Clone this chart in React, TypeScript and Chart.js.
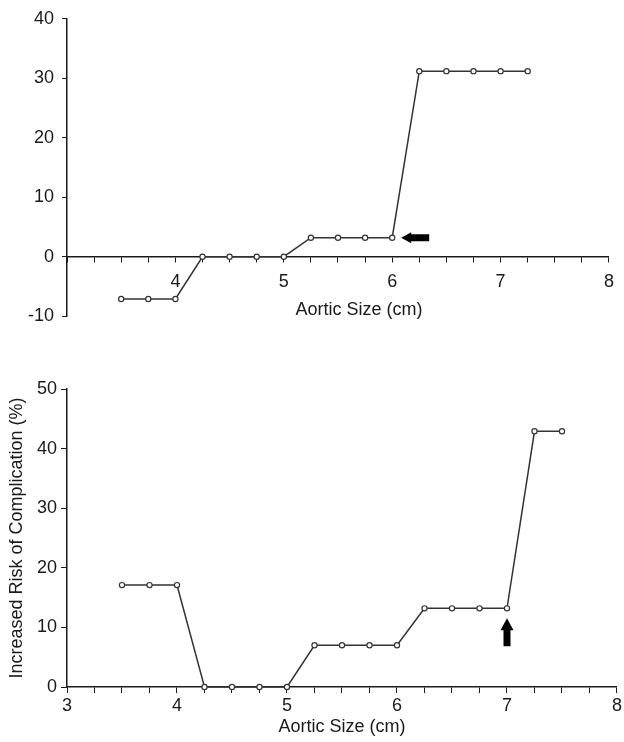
import React, { useEffect, useRef } from "react";
import { Chart, registerables } from "chart.js";

Chart.register(...registerables);

// ---- data ----
const topSizes = [3.5, 3.75, 4, 4.25, 4.5, 4.75, 5, 5.25, 5.5, 5.75, 6, 6.25, 6.5, 6.75, 7, 7.25];
const topRisk = [-7.1, -7.1, -7.1, 0, 0, 0, 0, 3.2, 3.2, 3.2, 3.2, 31.2, 31.2, 31.2, 31.2, 31.2];

const bottomSizes = [3.5, 3.75, 4, 4.25, 4.5, 4.75, 5, 5.25, 5.5, 5.75, 6, 6.25, 6.5, 6.75, 7, 7.25, 7.5];
const bottomRisk = [17.1, 17.1, 17.1, 0, 0, 0, 0, 7, 7, 7, 7, 13.2, 13.2, 13.2, 13.2, 42.9, 42.9];

const topXLabels = [4, 5, 6, 7, 8];
const bottomXLabels = [3, 4, 5, 6, 7, 8];
const topArrowAt = { x: 6, y: 3.2 };
const bottomArrowAt = { x: 7, y: 13.2 };

const xTitle = "Aortic Size (cm)";
const yTitle = "Increased Risk of Complication (%)";

const FONT = "'Liberation Sans', Arial, Helvetica, sans-serif";
const INK = "#1a1a1a";
const LINE = "#333333";

const arrowPlugin = {
  id: "arrow",
  afterDatasetsDraw(chart: any, _args: any, opts: any) {
    if (!opts || opts.x == null) return;
    const px = chart.scales.x.getPixelForValue(opts.x);
    const py = chart.scales.y.getPixelForValue(opts.y);
    const { gap, len, headLen, headW, shaftW, angle } = opts;
    const ctx = chart.ctx;
    ctx.save();
    ctx.translate(px, py);
    ctx.rotate(angle);
    ctx.beginPath();
    ctx.moveTo(gap, 0);
    ctx.lineTo(gap + headLen, -headW);
    ctx.lineTo(gap + headLen, -shaftW);
    ctx.lineTo(gap + len, -shaftW);
    ctx.lineTo(gap + len, shaftW);
    ctx.lineTo(gap + headLen, shaftW);
    ctx.lineTo(gap + headLen, headW);
    ctx.closePath();
    ctx.fillStyle = "#000";
    ctx.fill();
    ctx.restore();
  },
};

const shiftedTitlePlugin = {
  id: "shiftedTitle",
  afterDraw(chart: any, _args: any, opts: any) {
    if (!opts || !opts.text) return;
    const { left, right } = chart.chartArea;
    const y0 = chart.scales.y.getPixelForValue(0);
    const ctx = chart.ctx;
    ctx.save();
    ctx.font = `18px ${FONT}`;
    ctx.fillStyle = INK;
    ctx.textAlign = "center";
    ctx.textBaseline = "middle";
    ctx.fillText(opts.text, (left + right) / 2 + opts.dx, y0 + opts.dy);
    ctx.restore();
  },
};

function dataset(xs: number[], ys: number[]) {
  return {
    data: xs.map((x, i) => ({ x, y: ys[i] })),
    borderColor: LINE,
    borderWidth: 1.5,
    pointRadius: 2.6,
    pointBorderWidth: 1.2,
    pointBackgroundColor: "#fff",
    pointBorderColor: LINE,
    pointStyle: "circle",
    tension: 0,
    clip: false,
  };
}

function makeTop(canvas: HTMLCanvasElement) {
  return new Chart(canvas, {
    type: "line",
    data: { datasets: [dataset(topSizes, topRisk) as any] },
    plugins: [arrowPlugin, shiftedTitlePlugin],
    options: {
      animation: false,
      responsive: false,
      devicePixelRatio: 1,
      layout: { padding: { top: 16, right: 15, bottom: 13, left: 0 } },
      plugins: {
        legend: { display: false },
        tooltip: { enabled: false },
        arrow: { ...topArrowAt, gap: 9, len: 28, headLen: 10, headW: 5.5, shaftW: 3.5, angle: 0 },
        shiftedTitle: { text: xTitle, dx: 21, dy: 53 },
      } as any,
      scales: {
        x: {
          type: "linear",
          position: { y: 0 } as any,
          min: 3,
          max: 8,
          afterFit: (s: any) => { s.height = 40; },
          ticks: {
            stepSize: 0.25,
            autoSkip: false,
            maxRotation: 0,
            padding: 10,
            color: INK,
            font: { family: FONT, size: 18 },
            callback: (v: any) => (topXLabels.includes(Number(v)) ? String(v) : ""),
          },
          grid: { display: true, drawOnChartArea: false, drawTicks: true, tickLength: 5, color: INK, lineWidth: 1 },
          border: { display: true, color: INK, width: 1.5 },
        },
        y: {
          type: "linear",
          min: -10,
          max: 40,
          afterFit: (s: any) => { s.width = 67; },
          ticks: { stepSize: 10, padding: 8, color: INK, font: { family: FONT, size: 18 } },
          grid: { display: true, drawOnChartArea: false, drawTicks: true, tickLength: 5, color: INK, lineWidth: 1 },
          border: { display: true, color: INK, width: 1.5 },
        },
      },
    },
  });
}

function makeBottom(canvas: HTMLCanvasElement) {
  return new Chart(canvas, {
    type: "line",
    data: { datasets: [dataset(bottomSizes, bottomRisk) as any] },
    plugins: [arrowPlugin],
    options: {
      animation: false,
      responsive: false,
      devicePixelRatio: 1,
      layout: { padding: { top: 49, right: 6, bottom: 0, left: 0 } },
      plugins: {
        legend: { display: false },
        tooltip: { enabled: false },
        arrow: { ...bottomArrowAt, gap: 10, len: 28, headLen: 12, headW: 6.5, shaftW: 3.5, angle: Math.PI / 2 },
      } as any,
      scales: {
        x: {
          type: "linear",
          position: "bottom",
          min: 3,
          max: 8,
          afterFit: (s: any) => { s.height = 55; },
          title: { display: true, text: xTitle, color: INK, font: { family: FONT, size: 18 }, padding: { top: 0, bottom: 4 } },
          ticks: {
            stepSize: 0.25,
            autoSkip: false,
            maxRotation: 0,
            padding: 2,
            color: INK,
            font: { family: FONT, size: 18 },
            callback: (v: any) => (bottomXLabels.includes(Number(v)) ? String(v) : ""),
          },
          grid: { display: true, drawOnChartArea: false, drawTicks: true, tickLength: 6, color: INK, lineWidth: 1 },
          border: { display: true, color: INK, width: 1.5 },
        },
        y: {
          type: "linear",
          min: 0,
          max: 50,
          afterFit: (s: any) => { s.width = 67; },
          title: { display: true, text: yTitle, color: INK, font: { family: FONT, size: 18 }, padding: { top: 6, bottom: 0 } },
          ticks: { stepSize: 10, padding: 4, color: INK, font: { family: FONT, size: 18 } },
          grid: { display: true, drawOnChartArea: false, drawTicks: true, tickLength: 6, color: INK, lineWidth: 1 },
          border: { display: true, color: INK, width: 1.5 },
        },
      },
    },
  });
}

export default function App() {
  const topRef = useRef<HTMLCanvasElement>(null);
  const botRef = useRef<HTMLCanvasElement>(null);

  useEffect(() => {
    if (!topRef.current || !botRef.current) return;
    const a = makeTop(topRef.current);
    const b = makeBottom(botRef.current);
    return () => {
      a.destroy();
      b.destroy();
    };
  }, []);

  return (
    <div style={{ position: "absolute", left: 0, top: 0, width: 624, height: 742, background: "#fff" }}>
      <canvas ref={topRef} width={624} height={335} style={{ position: "absolute", left: 0, top: 0, width: 624, height: 335 }} />
      <canvas ref={botRef} width={624} height={402} style={{ position: "absolute", left: 0, top: 340, width: 624, height: 402 }} />
    </div>
  );
}
